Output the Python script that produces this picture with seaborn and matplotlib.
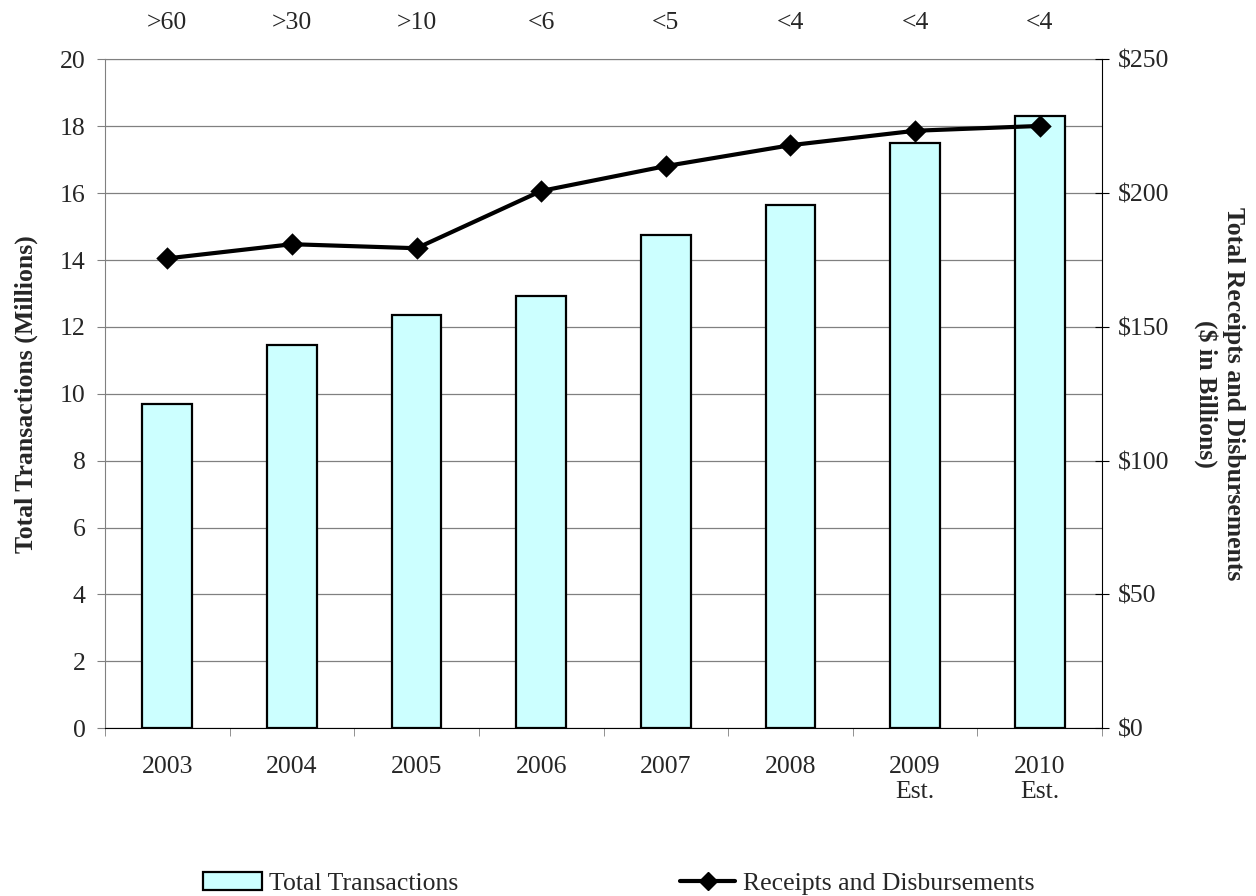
import numpy as np
import pandas as pd
import matplotlib
matplotlib.use("Agg")
import matplotlib.pyplot as plt
import matplotlib.transforms as mtransforms
from matplotlib.patches import Patch
from matplotlib.lines import Line2D
import seaborn as sns

years = ["2003", "2004", "2005", "2006", "2007", "2008", "2009\nEst.", "2010\nEst."]
transactions = [9.69, 11.46, 12.36, 12.93, 14.76, 15.64, 17.51, 18.31]   # millions
receipts = [175.6, 180.9, 179.4, 200.8, 210.1, 217.9, 223.3, 225.1]      # $ billions
top_labels = [">60", ">30", ">10", "<6", "<5", "<4", "<4", "<4"]

df = pd.DataFrame({"year": years, "transactions": transactions, "receipts": receipts})

sns.set_style("white")
plt.rcParams["font.family"] = ["Liberation Serif", "DejaVu Serif"]
fs = 18.5

fig = plt.figure(figsize=(12.56, 8.96), dpi=100)
ax = fig.add_axes([0.0836, 0.1872, 0.7938, 0.7466])
grey = "#808080"

sns.barplot(data=df, x="year", y="transactions", color="#CCFFFF", width=0.40,
            edgecolor="black", linewidth=1.6, saturation=1, ax=ax, zorder=2)
ax.set_ylim(0, 20)
ax.set_yticks(np.arange(0, 21, 2))
ax.set_xlim(-0.5, 7.5)
ax.yaxis.grid(True, color=grey, linewidth=0.9, zorder=0)
ax.set_axisbelow(True)
ax.set_xlabel("")
ax.set_ylabel("Total Transactions (Millions)", fontweight="bold", fontsize=fs, labelpad=16)
ax.tick_params(axis="y", left=True, length=6, color=grey, direction="out", labelsize=fs, pad=8)
ax.tick_params(axis="x", which="major", length=0, labelsize=fs, pad=20)
ax.set_xticks(np.arange(-0.5, 8, 1), minor=True)
ax.tick_params(axis="x", which="minor", bottom=True, length=6, color=grey, direction="out")
for s in ["left", "top"]:
    ax.spines[s].set_color(grey)
ax.spines["bottom"].set_color("black")
ax.spines["right"].set_visible(False)

# receipts line on the right axis
ax2 = ax.twinx()
sns.pointplot(data=df, x="year", y="receipts", color="black", markers="D",
              markersize=9, linewidth=3, ax=ax2)
ax2.set_xlim(-0.5, 7.5)
ax2.set_ylim(0, 250)
ax2.set_yticks(np.arange(0, 251, 50))
ax2.set_yticklabels([f"${v}" for v in range(0, 251, 50)])
ax2.tick_params(axis="y", right=True, length=9.5, color="black", direction="inout",
                labelsize=fs, pad=7)
ax2.set_ylabel("Total Receipts and Disbursements\n($ in Billions)", fontweight="bold",
               fontsize=fs, rotation=270, labelpad=54)
ax2.set_xlabel("")
for s in ["left", "top", "bottom"]:
    ax2.spines[s].set_visible(False)
ax2.spines["right"].set_color("black")
ax2.spines["right"].set_visible(True)

trans = mtransforms.blended_transform_factory(ax.transData, ax.transAxes)
for i, lab in enumerate(top_labels):
    ax.text(i, 1.054, lab, transform=trans, ha="center", va="center", fontsize=fs)

fig.legend([Patch(facecolor="#CCFFFF", edgecolor="black", linewidth=1.6)],
           ["Total Transactions"], loc="center left", bbox_to_anchor=(203 / 1256, 0.0145),
           frameon=False, fontsize=fs, handlelength=2.3, handletextpad=0.25,
           borderpad=0, borderaxespad=0)
fig.legend([Line2D([0], [0], color="black", marker="D", markersize=9, linewidth=3)],
           ["Receipts and Disbursements"], loc="center left", bbox_to_anchor=(680 / 1256, 0.0145),
           frameon=False, fontsize=fs, handlelength=2.15, handletextpad=0.3,
           borderpad=0, borderaxespad=0)

fig.savefig("out.png", dpi=100)
